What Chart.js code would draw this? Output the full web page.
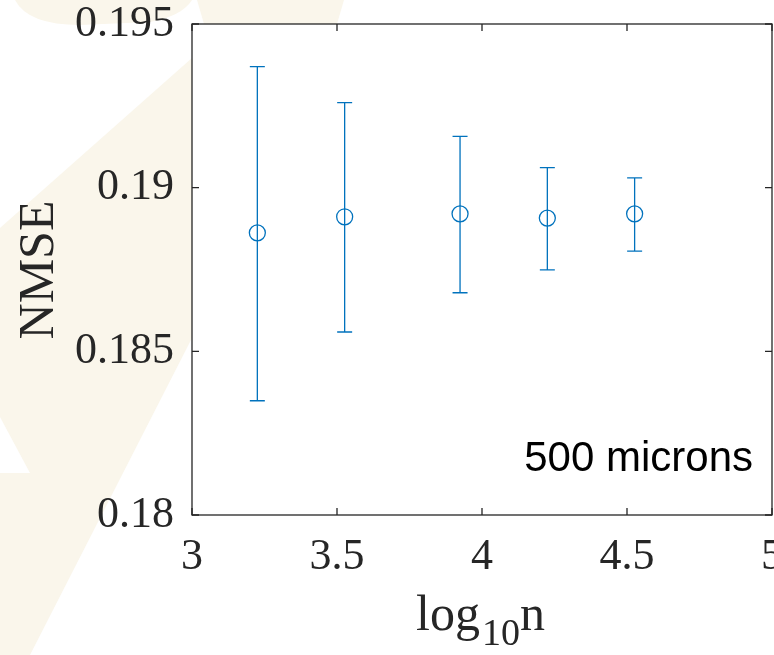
<!DOCTYPE html>
<html>
<head>
<meta charset="utf-8">
<script src="https://cdn.jsdelivr.net/npm/chart.js@4"></script>
<style>
html,body{margin:0;padding:0;background:#fff;}
#wrap{width:774px;height:655px;position:relative;}
</style>
</head>
<body>
<div id="wrap"><canvas id="c" width="774" height="655"></canvas></div>
<script>
// Data
const log10n   = [3.2253, 3.5264, 3.9243, 4.2253, 4.5263];
const nmseMean = [0.18862, 0.18911, 0.18920, 0.18907, 0.18920];
const nmseUpper = [0.19370, 0.19260, 0.19157, 0.19061, 0.19030];
const nmseLower = [0.18349, 0.18559, 0.18679, 0.18749, 0.18806];
const xTicks = [3, 3.5, 4, 4.5, 5];
const yTicks = [0.18, 0.185, 0.19, 0.195];
const annotationText = '500 microns';

const BLUE = '#0072BD';
const AX = '#262626';
const SERIF = '"Liberation Serif", "Times New Roman", serif';
const SANS = '"Liberation Sans", Arial, sans-serif';

const bgPlugin = {
  id: 'bg',
  beforeDraw(chart) {
    const ctx = chart.ctx, a = chart.chartArea;
    ctx.save();
    ctx.fillStyle = '#fff';
    ctx.fillRect(0, 0, chart.width, chart.height);
    ctx.fillStyle = '#faf6eb';
    // faint watermark shapes
    ctx.beginPath();
    ctx.moveTo(15, 0);
    ctx.quadraticCurveTo(28, 25, 80, 25);
    ctx.lineTo(150, 22);
    ctx.quadraticCurveTo(182, 16, 192, 0);
    ctx.closePath();
    ctx.fill();
    ctx.beginPath();
    ctx.moveTo(197, 0); ctx.lineTo(204, 24); ctx.lineTo(337, 24); ctx.lineTo(344, 0);
    ctx.closePath(); ctx.fill();
    ctx.beginPath();
    ctx.moveTo(192, 58); ctx.lineTo(192, 338); ctx.lineTo(30, 655); ctx.lineTo(0, 655);
    ctx.lineTo(0, 473); ctx.lineTo(30, 473); ctx.lineTo(0, 417); ctx.lineTo(0, 228);
    ctx.closePath(); ctx.fill();
    ctx.fillStyle = '#fff';
    ctx.fillRect(a.left, a.top, a.right - a.left, a.bottom - a.top);
    ctx.restore();
  }
};

const errPlugin = {
  id: 'errbars',
  beforeDatasetsDraw(chart) {
    const ctx = chart.ctx, xs = chart.scales.x, ys = chart.scales.y;
    ctx.save();
    ctx.strokeStyle = BLUE;
    ctx.lineWidth = 1.3;
    const cap = 7.5;
    for (let i = 0; i < log10n.length; i++) {
      const x = xs.getPixelForValue(log10n[i]);
      const yt = ys.getPixelForValue(nmseUpper[i]);
      const yb = ys.getPixelForValue(nmseLower[i]);
      ctx.beginPath();
      ctx.moveTo(x, yt); ctx.lineTo(x, yb);
      ctx.moveTo(x - cap, yt); ctx.lineTo(x + cap, yt);
      ctx.moveTo(x - cap, yb); ctx.lineTo(x + cap, yb);
      ctx.stroke();
    }
    ctx.restore();
  }
};

const framePlugin = {
  id: 'frame',
  afterDraw(chart) {
    const ctx = chart.ctx, a = chart.chartArea, xs = chart.scales.x, ys = chart.scales.y;
    ctx.save();
    ctx.strokeStyle = AX;
    ctx.lineWidth = 1.3;
    ctx.strokeRect(a.left, a.top, a.right - a.left, a.bottom - a.top);
    const tl = 7;
    ctx.beginPath();
    xTicks.forEach(v => {
      const x = xs.getPixelForValue(v);
      ctx.moveTo(x, a.bottom); ctx.lineTo(x, a.bottom - tl);
      ctx.moveTo(x, a.top); ctx.lineTo(x, a.top + tl);
    });
    yTicks.forEach(v => {
      const y = ys.getPixelForValue(v);
      ctx.moveTo(a.left, y); ctx.lineTo(a.left + tl, y);
      ctx.moveTo(a.right, y); ctx.lineTo(a.right - tl, y);
    });
    ctx.stroke();

    // annotation
    ctx.fillStyle = '#000';
    ctx.font = '42px ' + SANS;
    ctx.textAlign = 'right';
    ctx.textBaseline = 'alphabetic';
    ctx.fillText(annotationText, 753, 471);

    // y axis title
    ctx.fillStyle = AX;
    ctx.save();
    ctx.translate(53, 270);
    ctx.rotate(-Math.PI / 2);
    ctx.font = '50px ' + SERIF;
    ctx.textAlign = 'center';
    ctx.fillText('NMSE', 0, 0);
    ctx.restore();

    // x axis title log_10 n
    ctx.textAlign = 'left';
    ctx.font = '50px ' + SERIF;
    let x0 = 416;
    ctx.fillText('log', x0, 630);
    x0 += ctx.measureText('log').width + 2;
    ctx.font = '38px ' + SERIF;
    ctx.fillText('10', x0, 645);
    x0 += ctx.measureText('10').width;
    ctx.font = '50px ' + SERIF;
    ctx.fillText('n', x0, 630);
    ctx.restore();
  }
};

new Chart(document.getElementById('c'), {
  type: 'scatter',
  data: {
    datasets: [{
      data: log10n.map((x, i) => ({ x: x, y: nmseMean[i] })),
      pointStyle: 'circle',
      pointRadius: 8,
      pointHoverRadius: 8,
      backgroundColor: 'rgba(0,0,0,0)',
      borderColor: BLUE,
      borderWidth: 1.3,
      showLine: false
    }]
  },
  options: {
    responsive: false,
    animation: false,
    events: [],
    layout: { autoPadding: false, padding: { top: 24, right: 2, left: 0, bottom: 0 } },
    plugins: { legend: { display: false }, tooltip: { enabled: false } },
    scales: {
      x: {
        type: 'linear', min: 3, max: 5,
        afterBuildTicks(s) { s.ticks = xTicks.map(v => ({ value: v })); },
        afterFit(s) { s.height = 140; s.paddingLeft = 0; s.paddingRight = 0; },
        grid: { display: false, drawTicks: false },
        border: { display: false },
        ticks: {
          padding: 16, color: AX, maxRotation: 0, autoSkip: false,
          font: { family: SERIF, size: 44 },
          callback: v => String(v)
        }
      },
      y: {
        type: 'linear', min: 0.18, max: 0.195,
        afterBuildTicks(s) { s.ticks = yTicks.map(v => ({ value: v })); },
        afterFit(s) { s.width = 192; s.paddingTop = 0; s.paddingBottom = 0; },
        grid: { display: false, drawTicks: false },
        border: { display: false },
        ticks: {
          padding: 18, color: AX, autoSkip: false,
          font: { family: SERIF, size: 44 },
          callback: v => String(+v.toFixed(3))
        }
      }
    }
  },
  plugins: [bgPlugin, errPlugin, framePlugin]
});
</script>
</body>
</html>
